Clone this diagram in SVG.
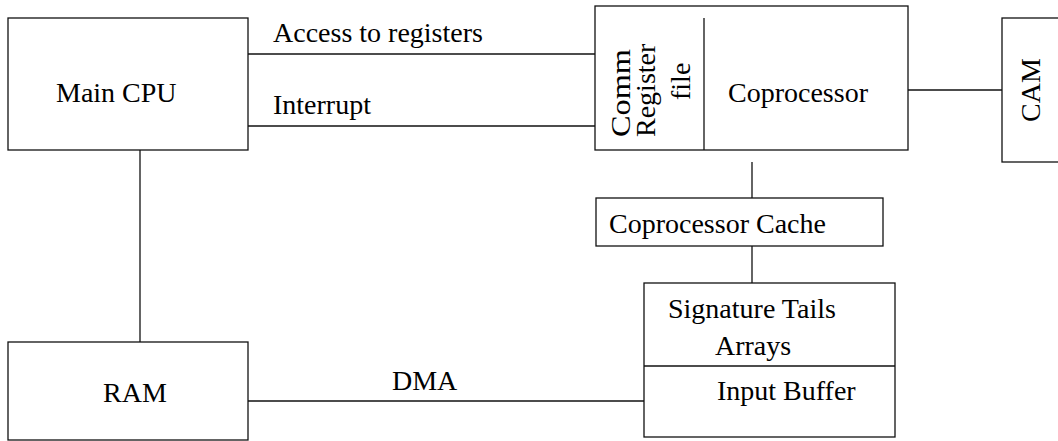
<svg xmlns="http://www.w3.org/2000/svg" width="1058" height="441" viewBox="0 0 1058 441">
  <style>
    .box { fill: #fff; stroke: #111; stroke-width: 1.3; }
    .wire { fill: none; stroke: #111; stroke-width: 1.3; }
    .lbl { font-family: "Liberation Serif", "Times New Roman", serif; font-size: 28px; fill: #000; }
  </style>

  <!-- connectors -->
  <g id="connectors">
    <line class="wire" x1="248" y1="54" x2="595" y2="54"/>
    <text class="lbl" x="273" y="42">Access to registers</text>
    <line class="wire" x1="248" y1="126" x2="595" y2="126"/>
    <text class="lbl" x="273" y="114">Interrupt</text>
    <line class="wire" x1="140" y1="150" x2="140" y2="342"/>
    <line class="wire" x1="248" y1="401" x2="644" y2="401"/>
    <text class="lbl" x="392" y="390">DMA</text>
    <line class="wire" x1="908" y1="90" x2="1002" y2="90"/>
    <line class="wire" x1="752" y1="162" x2="752" y2="198"/>
    <line class="wire" x1="752" y1="246" x2="752" y2="283"/>
  </g>

  <g id="main-cpu">
    <rect class="box" x="8" y="18" width="240" height="132"/>
    <text class="lbl" x="56" y="102">Main CPU</text>
  </g>

  <g id="ram">
    <rect class="box" x="8" y="342" width="240" height="98"/>
    <text class="lbl" x="103" y="402">RAM</text>
  </g>

  <g id="coprocessor">
    <rect class="box" x="595" y="6" width="313" height="144"/>
    <line class="wire" x1="704" y1="18" x2="704" y2="150"/>
    <text class="lbl" textLength="88" lengthAdjust="spacingAndGlyphs" transform="translate(630 137) rotate(-90)">Comm</text>
    <text class="lbl" transform="translate(655 137) rotate(-90)">Register</text>
    <text class="lbl" transform="translate(690 100) rotate(-90)">file</text>
    <text class="lbl" x="728" y="102">Coprocessor</text>
  </g>

  <g id="cam">
    <rect class="box" x="1002" y="18" width="70" height="144"/>
    <text class="lbl" text-anchor="middle" transform="translate(1040 90) rotate(-90)">CAM</text>
  </g>

  <g id="coprocessor-cache">
    <rect class="box" x="596" y="198" width="287" height="48"/>
    <text class="lbl" x="609" y="233">Coprocessor Cache</text>
  </g>

  <g id="signature-tails">
    <rect class="box" x="644" y="283" width="251" height="154"/>
    <line class="wire" x1="644" y1="366" x2="895" y2="366"/>
    <text class="lbl" x="668" y="318">Signature Tails</text>
    <text class="lbl" x="715" y="355">Arrays</text>
    <text class="lbl" x="717" y="400">Input Buffer</text>
  </g>
</svg>
